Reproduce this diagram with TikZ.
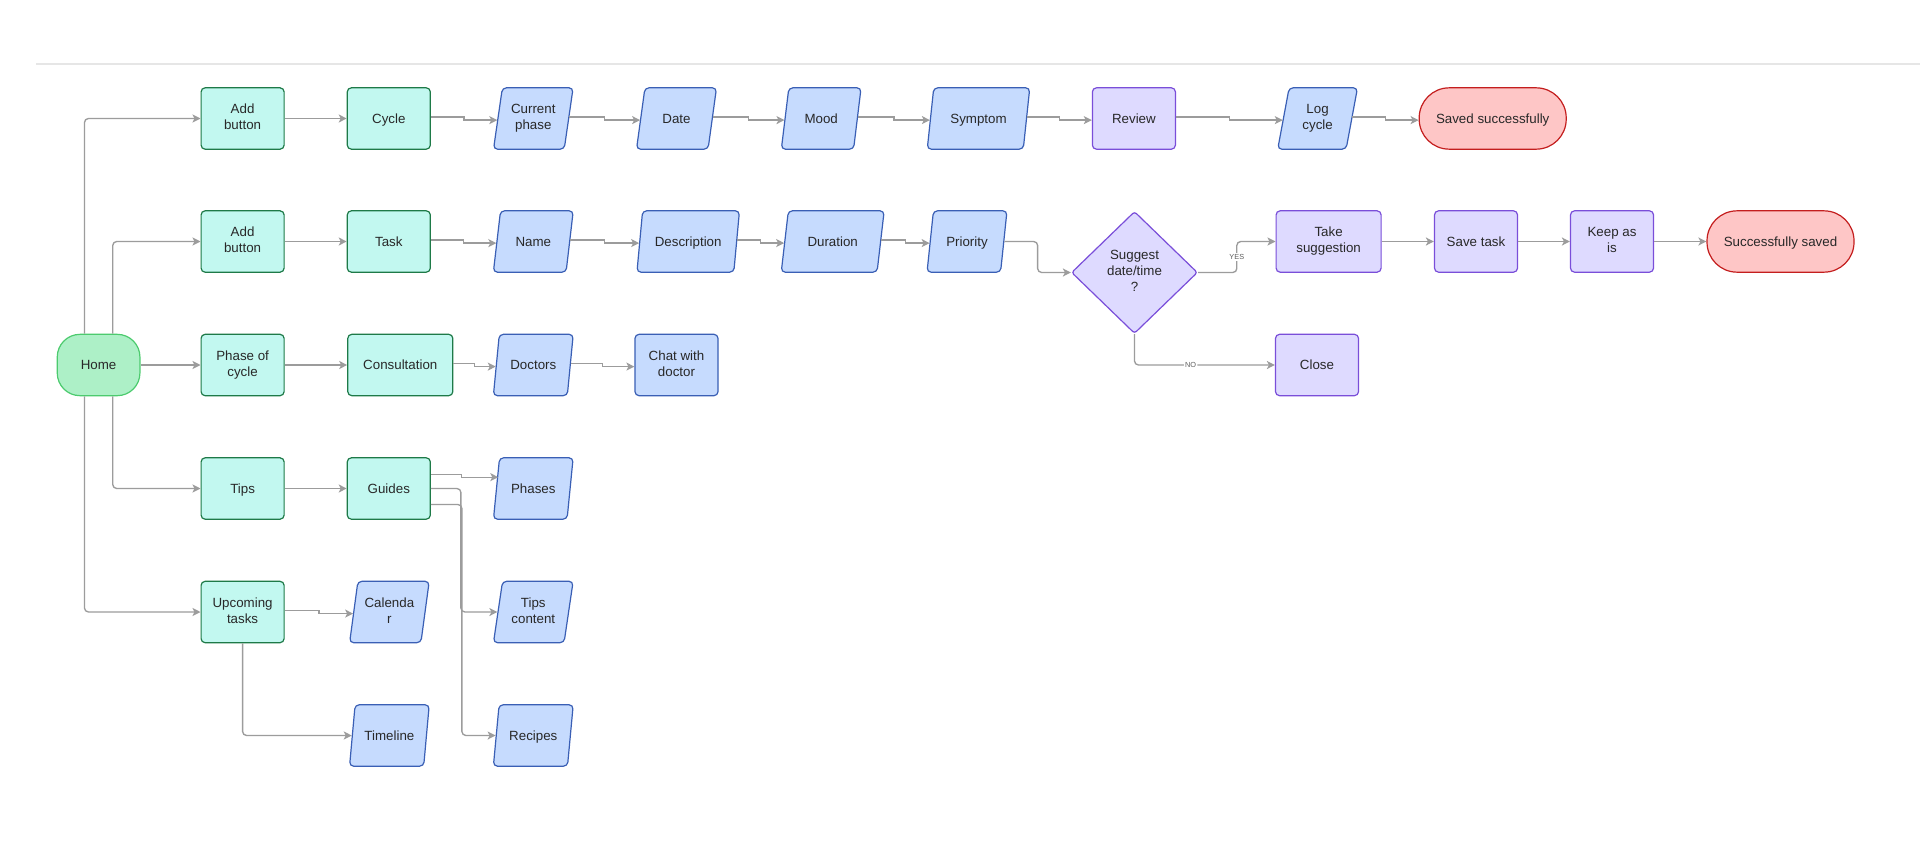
\documentclass[tikz,border=0pt]{standalone}
\usepackage{fontspec}
\setmainfont{Liberation Sans}
\usetikzlibrary{shapes.geometric,arrows.meta,calc}
\definecolor{tealF}{HTML}{C2F8F0}
\definecolor{tealD}{HTML}{1E7A48}
\definecolor{homeF}{HTML}{ADF0C7}
\definecolor{homeD}{HTML}{4CCB6E}
\definecolor{blueF}{HTML}{C6DBFE}
\definecolor{blueD}{HTML}{3A5FB5}
\definecolor{purpF}{HTML}{DEDAFF}
\definecolor{purpD}{HTML}{7A4ED9}
\definecolor{redF}{HTML}{FEC6C6}
\definecolor{redD}{HTML}{C41E1E}
\definecolor{arr}{HTML}{9C9C9C}
\definecolor{txt}{HTML}{282828}
\definecolor{rule}{HTML}{E6E6E6}
\newcommand\mystrut{\vrule width 0pt height 9.5pt depth 2.3pt\relax}
\tikzset{
  base/.style={draw, line width=0.9pt, align=center, font=\fontsize{10}{12}\selectfont, text=txt, inner sep=2pt,
    execute at begin node=\mystrut, execute at end node=\mystrut},
  gbox/.style={base, rectangle, rounded corners=3pt, fill=tealF, draw=tealD, minimum width=62.25pt, minimum height=46pt},
  pbox/.style={base, rectangle, rounded corners=3pt, fill=purpF, draw=purpD, minimum width=62.25pt, minimum height=46pt},
  homebox/.style={base, rectangle, rounded corners=17pt, fill=homeF, draw=homeD, minimum width=62pt, minimum height=46pt},
  endbox/.style={base, rectangle, rounded corners=22.5pt, fill=redF, draw=redD, minimum width=110.25pt, minimum height=46pt},
  para/.style={base, trapezium, trapezium left angle=78, trapezium right angle=102, trapezium stretches=true, rounded corners=3pt, fill=blueF, draw=blueD, minimum width=60pt, minimum height=46pt},
  widepara/.style={para, minimum width=77.25pt},
  widebox/.style={minimum width=78.75pt},
  decision/.style={base, diamond, rounded corners=2pt, fill=purpF, draw=purpD, inner sep=0pt, minimum width=94.5pt, minimum height=91.5pt},
  conn/.style={draw=arr, line width=1pt, -{Stealth[length=6pt,width=6pt,inset=1.5pt]}, rounded corners=3pt},
  lbl/.style={fill=white, inner sep=1pt, font=\fontsize{5.5}{6}\selectfont, text=txt!75}
}
\newcommand\jogto[2]{%
  \draw[conn,rounded corners=0pt] ([yshift=1.2pt]#1.east) -| ($([yshift=1.2pt]#1.east)!0.5!([yshift=-1.2pt]#2.west)$) |- ([yshift=-1.2pt]#2.west);}
\begin{document}
\begin{tikzpicture}[x=0.75pt,y=-0.75pt]
\useasboundingbox (0,0) rectangle (1920,842);
\fill[white] (0,0) rectangle (1920,842);
\draw[rule, line width=0.8pt] (36,64) -- (1920,64);

% column 0/1
\node[homebox] (home) at (98.6,365) {Home};
\node[gbox] (add1) at (242.6,118.5) {Add\\button};
\node[gbox] (add2) at (242.6,241.5) {Add\\button};
\node[gbox] (phase) at (242.6,365) {Phase of\\cycle};
\node[gbox] (tips) at (242.6,488.5) {Tips};
\node[gbox] (upc) at (242.6,612) {Upcoming\\tasks};
% column 2
\node[gbox] (cycle) at (388.8,118.5) {Cycle};
\node[gbox] (task) at (388.8,241.5) {Task};
\node[gbox,widebox] (consult) at (400.3,365) {Consultation};
\node[gbox] (guides) at (388.8,488.5) {Guides};
\node[para] (cal) at (389.4,612) {Calenda\\r};
\node[para] (timeline) at (389.4,735.5) {Timeline};
% column 3
\node[para] (cur) at (533.3,118.5) {Current\\phase};
\node[para] (name) at (533.3,241.5) {Name};
\node[para] (doctors) at (533.3,365) {Doctors};
\node[para] (phases) at (533.3,488.5) {Phases};
\node[para] (tipsc) at (533.3,612) {Tips\\content};
\node[para] (recipes) at (533.3,735.5) {Recipes};
% column 4
\node[para] (date) at (676.5,118.5) {Date};
\node[widepara] (desc) at (688.2,241.5) {Description};
\node[base, rectangle, rounded corners=3pt, fill=blueF, draw=blueD, minimum width=62.25pt, minimum height=46pt] (chat) at (676.5,365) {Chat with\\doctor};
% column 5
\node[para] (mood) at (821.2,118.5) {Mood};
\node[widepara] (dur) at (832.7,241.5) {Duration};
% column 6
\node[widepara] (symp) at (978.5,118.5) {Symptom};
\node[para] (prio) at (967,241.5) {Priority};
% right part
\node[pbox] (review) at (1133.9,118.5) {Review};
\node[decision] (dia) at (1134.5,272.5) {Suggest\\date/time\\?};
\node[para] (log) at (1317.6,118.5) {Log\\cycle};
\node[endbox] (saved) at (1492.7,118.5) {Saved successfully};
\node[pbox,widebox] (take) at (1328.6,241.5) {Take\\suggestion};
\node[pbox] (close) at (1317,365) {Close};
\node[pbox] (savetask) at (1476,241.5) {Save task};
\node[pbox] (keep) at (1612,241.5) {Keep as\\is};
\node[endbox] (succ) at (1780.5,241.5) {Successfully saved};

% connectors from Home
\draw[conn] ([xshift=-10.6pt]home.north) |- (add1.west);
\draw[conn] ([xshift=10.6pt]home.north) |- (add2.west);
\draw[conn] (home.east) -- (phase.west);
\draw[conn] ([xshift=10.6pt]home.south) |- (tips.west);
\draw[conn] ([xshift=-10.6pt]home.south) |- (upc.west);

% straight links
\draw[conn] (add1.east) -- (cycle.west);
\draw[conn] (add2.east) -- (task.west);
\draw[conn] (phase.east) -- (consult.west);
\draw[conn] (tips.east) -- (guides.west);
\draw[conn] (take.east) -- (savetask.west);
\draw[conn] (savetask.east) -- (keep.west);
\draw[conn] (keep.east) -- (succ.west);

% jogged links
\jogto{cycle}{cur}
\jogto{cur}{date}
\jogto{date}{mood}
\jogto{mood}{symp}
\jogto{symp}{review}
\jogto{review}{log}
\jogto{log}{saved}
\jogto{task}{name}
\jogto{name}{desc}
\jogto{desc}{dur}
\jogto{dur}{prio}
\jogto{consult}{doctors}
\jogto{doctors}{chat}
\jogto{upc}{cal}

% guides
\draw[conn,rounded corners=0pt] ([yshift=10.7pt]guides.east) -| ($([yshift=10.7pt]guides.east)!0.45!([yshift=8.5pt,xshift=1.8pt]phases.west)$) |- ([yshift=8.5pt,xshift=1.8pt]phases.west);
\draw[conn] (guides.east) -- ++(30,0) |- (tipsc.west);
\draw[conn] ([yshift=-12pt]guides.east) -- ++(31,0) |- (recipes.west);
\draw[conn] (upc.south) |- (timeline.west);

% decision
\draw[conn] (prio.east) -| ($(prio.east)!0.5!(dia.west)$) |- (dia.west);
\draw[conn] (dia.east) -| ($(dia.east)!0.5!(take.west)$) |- (take.west);
\node[lbl] (yes) at ($(dia.east)!0.5!(take.west)$) {YES};
\draw[conn] (dia.south) |- node[lbl, pos=0.7] (no) {NO} (close.west);
\end{tikzpicture}
\end{document}
